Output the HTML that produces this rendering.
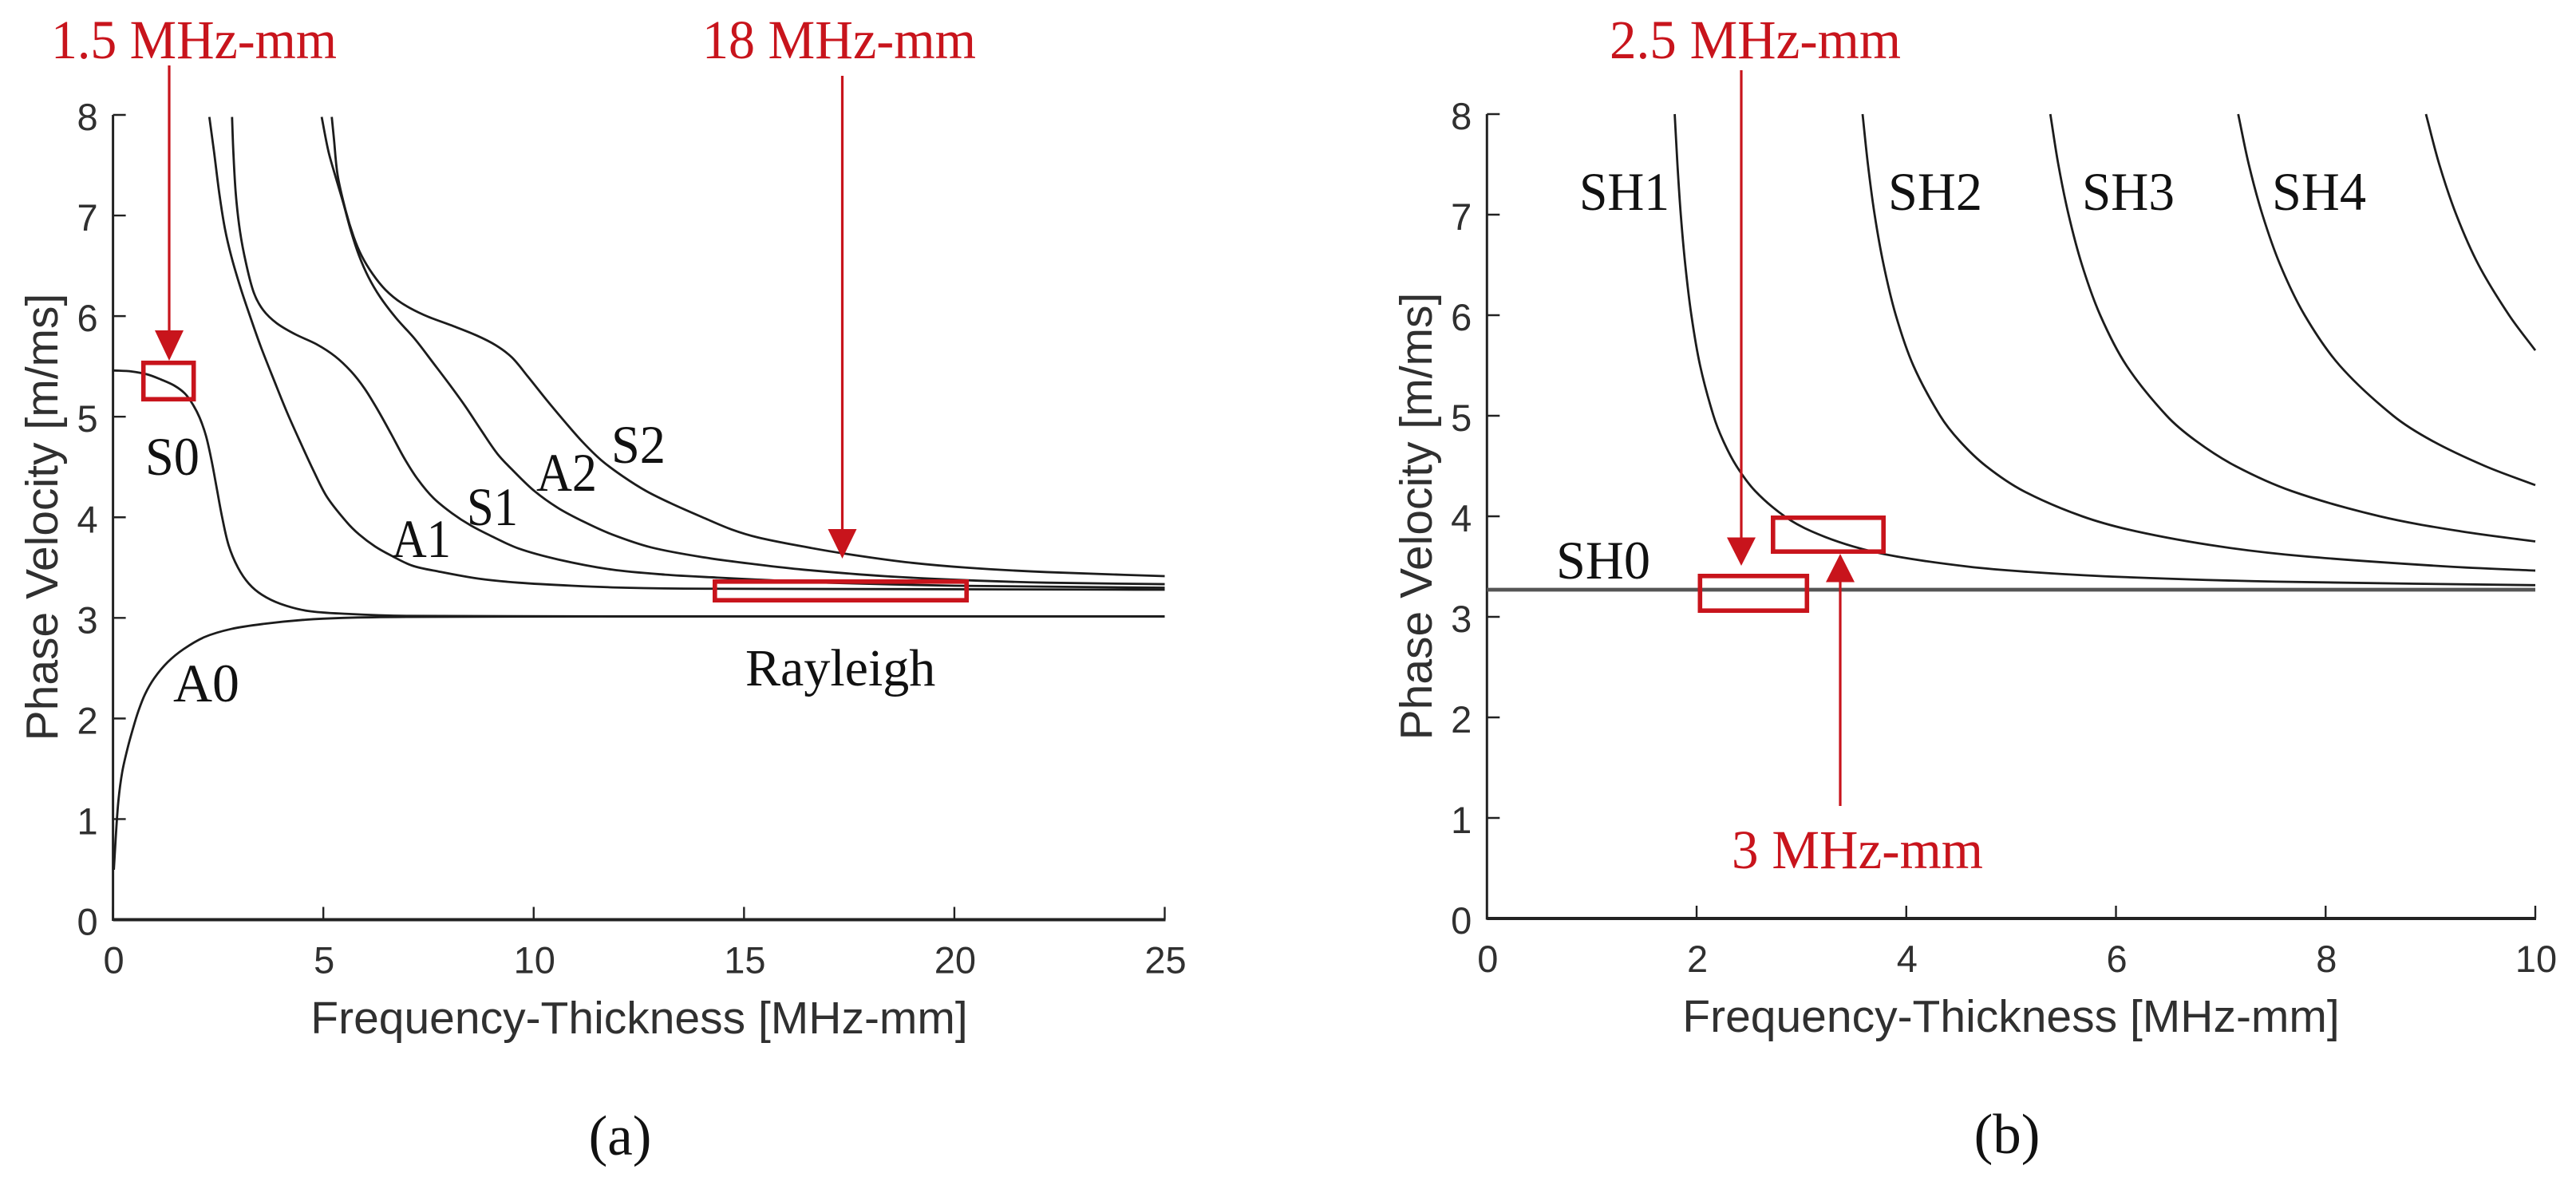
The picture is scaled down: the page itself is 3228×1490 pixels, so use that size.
<!DOCTYPE html>
<html lang="en">
<head>
<meta charset="utf-8">
<title>Phase velocity dispersion curves</title>
<style>
html,body{margin:0;padding:0;background:#fff;width:3228px;height:1490px;overflow:hidden}
svg{display:block}
.tick{font-family:"Liberation Sans",sans-serif;font-size:47px;fill:#303030}
.title{font-family:"Liberation Sans",sans-serif;font-size:57px;fill:#303030}
.lab{font-family:"Liberation Serif",serif;font-size:68px;fill:#111}
.cap{font-family:"Liberation Serif",serif;font-size:66px;fill:#111}
.paren{font-family:"Liberation Serif",serif;font-size:71px;fill:#111}
.red{font-family:"Liberation Serif",serif;font-size:69px;fill:#c8141c}
.rbox{fill:none;stroke:#c8141c;stroke-width:5.6}
.rline{stroke:#c8141c;stroke-width:3.2;fill:none}
.rhead{fill:#c8141c;stroke:none}
</style>
</head>
<body>
<svg id="fig" xmlns="http://www.w3.org/2000/svg" width="3228" height="1490" viewBox="0 0 3228 1490">
  <rect x="0" y="0" width="3228" height="1490" fill="#fff"/>
  <g id="panelA"></g>
  <g id="panelB"></g>

  <g>
    <text class="lab" x="182" y="595" textLength="68" lengthAdjust="spacingAndGlyphs">S0</text>
    <text class="lab" x="217" y="879" textLength="83" lengthAdjust="spacingAndGlyphs">A0</text>
    <text class="lab" x="491" y="698" textLength="74" lengthAdjust="spacingAndGlyphs">A1</text>
    <text class="lab" x="585" y="658" textLength="64" lengthAdjust="spacingAndGlyphs">S1</text>
    <text class="lab" x="672" y="615" textLength="76" lengthAdjust="spacingAndGlyphs">A2</text>
    <text class="lab" x="766" y="580" textLength="68" lengthAdjust="spacingAndGlyphs">S2</text>
    <text class="cap" x="934" y="859">Rayleigh</text>
  </g>
  <g>
    <text class="lab" x="1950" y="725" textLength="118" lengthAdjust="spacingAndGlyphs">SH0</text>
    <text class="lab" x="1979" y="263" textLength="113" lengthAdjust="spacingAndGlyphs">SH1</text>
    <text class="lab" x="2366" y="263" textLength="118" lengthAdjust="spacingAndGlyphs">SH2</text>
    <text class="lab" x="2609" y="263" textLength="116" lengthAdjust="spacingAndGlyphs">SH3</text>
    <text class="lab" x="2847" y="263" textLength="118" lengthAdjust="spacingAndGlyphs">SH4</text>
  </g>

  <g>
    <text class="red" x="64" y="73" textLength="358" lengthAdjust="spacingAndGlyphs">1.5 MHz-mm</text>
    <line class="rline" x1="212" y1="82" x2="212" y2="420"/>
    <polygon class="rhead" points="194,414 230,414 212,452"/>
    <rect class="rbox" x="179.7" y="454.7" width="63" height="45.6"/>
    <text class="red" x="880" y="73" textLength="343" lengthAdjust="spacingAndGlyphs">18 MHz-mm</text>
    <line class="rline" x1="1055.5" y1="95" x2="1055.5" y2="670"/>
    <polygon class="rhead" points="1037.5,663 1073.5,663 1055.5,700"/>
    <rect class="rbox" x="895.8" y="728.8" width="315.4" height="23.4"/>
  </g>
  <g>
    <text class="red" x="2017" y="73" textLength="365" lengthAdjust="spacingAndGlyphs">2.5 MHz-mm</text>
    <line class="rline" x1="2182" y1="88" x2="2182" y2="680"/>
    <polygon class="rhead" points="2164,673.5 2200,673.5 2182,709"/>
    <rect class="rbox" x="2130.3" y="721.8" width="134" height="43.4"/>
    <text class="red" x="2170" y="1088" textLength="315" lengthAdjust="spacingAndGlyphs">3 MHz-mm</text>
    <line class="rline" x1="2306" y1="1010" x2="2306" y2="722"/>
    <polygon class="rhead" points="2288,729.5 2324,729.5 2306,694"/>
    <rect class="rbox" x="2221.8" y="648.8" width="138.4" height="42.4"/>
  </g>

  <text class="paren" x="777" y="1447" text-anchor="middle">(a)</text>
  <text class="paren" x="2515" y="1445" text-anchor="middle">(b)</text>
</svg>

<script>
// Panel (a) tick labels
const ticksAX = [0, 5, 10, 15, 20, 25];
const ticksAY = [0, 1, 2, 3, 4, 5, 6, 7, 8];
// Panel (b) tick labels
const ticksBX = [0, 2, 4, 6, 8, 10];
const ticksBY = [0, 1, 2, 3, 4, 5, 6, 7, 8];

// Panel (a): frequency-thickness [MHz-mm] and phase velocity [m/ms]
const fdS0 = [0, 0.44, 0.82, 1.14, 1.455, 1.71, 1.9, 2.06, 2.21, 2.34, 2.47, 2.59, 2.75, 2.97, 3.23, 3.54, 3.98, 4.62, 5.56, 7, 12, 25];
const vpS0 = [5.46, 5.45, 5.42, 5.37, 5.31, 5.23, 5.12, 4.99, 4.81, 4.57, 4.28, 4.01, 3.72, 3.5, 3.34, 3.23, 3.14, 3.07, 3.04, 3.02, 3.015, 3.015];
const fdA0 = [0.02, 0.064, 0.128, 0.22, 0.35, 0.475, 0.6, 0.76, 0.98, 1.3, 1.68, 2.18, 2.81, 3.57, 4.52, 5.47, 7, 12, 25];
const vpA0 = [0.496, 0.81, 1.18, 1.47, 1.71, 1.9, 2.07, 2.24, 2.4, 2.56, 2.69, 2.81, 2.89, 2.94, 2.98, 3.0, 3.01, 3.015, 3.015];
const fdA1 = [2.29, 2.4, 2.53, 2.66, 2.815, 3.04, 3.26, 3.51, 3.83, 4.14, 4.46, 4.77, 5.09, 5.56, 5.85, 6.23, 6.61, 7.11, 7.75, 8.69, 9.64, 10.91, 12.17, 14.07, 25];
const vpA1 = [7.98, 7.64, 7.21, 6.87, 6.59, 6.27, 5.996, 5.7, 5.36, 5.04, 4.74, 4.46, 4.2, 3.95, 3.83, 3.71, 3.62, 3.52, 3.46, 3.39, 3.35, 3.32, 3.3, 3.29, 3.28];
const fdS1 = [2.83, 2.86, 2.92, 3.02, 3.16, 3.35, 3.57, 3.89, 4.33, 4.84, 5.28, 5.66, 5.98, 6.29, 6.61, 6.92, 7.24, 7.62, 8.06, 8.5, 9.01, 9.64, 10.59, 11.86, 13.12, 14.38, 15.33, 17, 20, 25];
const vpS1 = [7.98, 7.64, 7.21, 6.84, 6.53, 6.23, 6.06, 5.93, 5.82, 5.72, 5.6, 5.45, 5.28, 5.07, 4.83, 4.59, 4.38, 4.19, 4.04, 3.92, 3.81, 3.69, 3.58, 3.48, 3.43, 3.4, 3.38, 3.35, 3.32, 3.3];
const fdA2 = [4.96, 5.12, 5.28, 5.47, 5.66, 5.85, 6.07, 6.35, 6.73, 7.18, 7.62, 8.0, 8.38, 8.76, 9.14, 9.52, 10.02, 10.59, 11.22, 11.86, 12.8, 14.07, 15.33, 16.4, 18.34, 20.27, 22.2, 25];
const vpA2 = [7.98, 7.64, 7.4, 7.13, 6.84, 6.6, 6.39, 6.19, 5.98, 5.77, 5.53, 5.32, 5.1, 4.86, 4.63, 4.46, 4.26, 4.09, 3.95, 3.83, 3.7, 3.6, 3.53, 3.48, 3.415, 3.375, 3.35, 3.335];
const fdS2 = [5.2, 5.25, 5.34, 5.53, 5.72, 5.91, 6.17, 6.48, 6.86, 7.4, 8.03, 8.63, 9.1, 9.48, 9.86, 10.3, 10.75, 11.16, 11.6, 12.11, 12.68, 13.31, 14.07, 14.7, 15.33, 16.4, 17.37, 18.83, 20.27, 22.2, 25];
const vpS2 = [7.98, 7.77, 7.4, 7.05, 6.79, 6.6, 6.42, 6.26, 6.13, 6.01, 5.91, 5.81, 5.71, 5.59, 5.4, 5.17, 4.945, 4.75, 4.57, 4.41, 4.26, 4.13, 3.99, 3.88, 3.8, 3.71, 3.64, 3.555, 3.5, 3.455, 3.415];

// Panel (b): frequency-thickness [MHz-mm] and phase velocity [m/ms]
const fdSH0 = [0, 5, 10];
const vpSH0 = [3.27, 3.27, 3.27];
const fdSH1 = [1.791, 1.817, 1.849, 1.892, 1.95, 2.033, 2.161, 2.254, 2.38, 2.56, 2.839, 3.097, 3.494, 3.909, 4.586, 5.129, 5.97, 7.527, 10];
const vpSH1 = [8, 7.5, 7, 6.5, 6, 5.5, 5, 4.75, 4.5, 4.25, 4, 3.85, 3.7, 3.6, 3.5, 3.45, 3.4, 3.35, 3.315];
const fdSH2 = [3.583, 3.634, 3.698, 3.784, 3.9, 4.067, 4.323, 4.508, 4.76, 5.12, 5.678, 6.195, 6.989, 7.818, 9.172, 10];
const vpSH2 = [8, 7.5, 7, 6.5, 6, 5.5, 5, 4.75, 4.5, 4.25, 4, 3.85, 3.7, 3.6, 3.5, 3.46];
const fdSH3 = [5.374, 5.45, 5.548, 5.676, 5.85, 6.1, 6.484, 6.763, 7.14, 7.679, 8.517, 9.292, 10];
const vpSH3 = [8, 7.5, 7, 6.5, 6, 5.5, 5, 4.75, 4.5, 4.25, 4, 3.85, 3.75];
const fdSH4 = [7.166, 7.267, 7.397, 7.567, 7.8, 8.134, 8.645, 9.017, 9.52, 10];
const vpSH4 = [8, 7.5, 7, 6.5, 6, 5.5, 5, 4.75, 4.5, 4.31];
const fdSH5 = [8.957, 9.084, 9.246, 9.459, 9.75, 10];
const vpSH5 = [8, 7.5, 7, 6.5, 6, 5.65];

const NS = 'http://www.w3.org/2000/svg';

function make(tag, parent, attrs) {
  const el = document.createElementNS(NS, tag);
  for (const k in attrs) el.setAttribute(k, attrs[k]);
  parent.appendChild(el);
  return el;
}

function splinePath(pts) {
  let d = 'M' + pts[0][0].toFixed(2) + ' ' + pts[0][1].toFixed(2);
  for (let i = 0; i < pts.length - 1; i++) {
    const p0 = pts[Math.max(i - 1, 0)], p1 = pts[i], p2 = pts[i + 1], p3 = pts[Math.min(i + 2, pts.length - 1)];
    const h = Math.hypot(p2[0] - p1[0], p2[1] - p1[1]);
    const t1 = Math.min(1, h / (Math.hypot(p2[0] - p0[0], p2[1] - p0[1]) || 1)) / 3;
    const t2 = Math.min(1, h / (Math.hypot(p3[0] - p1[0], p3[1] - p1[1]) || 1)) / 3;
    const c1x = p1[0] + (p2[0] - p0[0]) * t1, c1y = p1[1] + (p2[1] - p0[1]) * t1;
    const c2x = p2[0] - (p3[0] - p1[0]) * t2, c2y = p2[1] - (p3[1] - p1[1]) * t2;
    d += 'C' + c1x.toFixed(2) + ' ' + c1y.toFixed(2) + ' ' + c2x.toFixed(2) + ' ' + c2y.toFixed(2) + ' ' + p2[0].toFixed(2) + ' ' + p2[1].toFixed(2);
  }
  return d;
}

function drawAxes(group, prefix, cfg, xTicks, yTicks) {
  const sx = v => cfg.x0 + (v - xTicks[0]) / (xTicks[xTicks.length - 1] - xTicks[0]) * (cfg.x1 - cfg.x0);
  const sy = v => cfg.y0 + (v - yTicks[0]) / (yTicks[yTicks.length - 1] - yTicks[0]) * (cfg.y1 - cfg.y0);

  const yAxis = make('line', group, {x1: cfg.x0, x2: cfg.x0, y1: cfg.y0 + 1.5, y2: cfg.y1, stroke: '#222', 'stroke-width': 3});
  
  
  const xAxis = make('line', group, {x1: cfg.x0, x2: cfg.x1 + 1, y1: cfg.y0, y2: cfg.y0, stroke: '#222', 'stroke-width': 4});
  
  

  xTicks.forEach(v => {
    const x = sx(v);
    const mark = make('line', group, {x1: x, x2: x, y1: cfg.y0, y2: cfg.y0 - 16, stroke: '#222', 'stroke-width': 2.4});
    
    
    const t = make('text', group, {x: x + 1, y: cfg.y0 + 67, 'text-anchor': 'middle', class: 'tick'});
    t.textContent = String(v);
    
    
  });
  yTicks.forEach(v => {
    const y = sy(v);
    const mark = make('line', group, {x1: cfg.x0, x2: cfg.x0 + 16, y1: y, y2: y, stroke: '#222', 'stroke-width': 2.4});
    
    
    const t = make('text', group, {x: cfg.x0 - 19, y: y + 19, 'text-anchor': 'end', class: 'tick'});
    t.textContent = String(v);
    
    
  });

  const xt = make('text', group, {x: cfg.xTitleX, y: cfg.xTitleY, 'text-anchor': 'middle', class: 'title'});
  xt.textContent = 'Frequency-Thickness [MHz-mm]';
  
  
  const yt = make('text', group, {transform: 'translate(' + cfg.yTitleX + ' ' + cfg.yTitleY + ') rotate(-90)', 'text-anchor': 'middle', class: 'title'});
  yt.textContent = 'Phase Velocity [m/ms]';
  
  

  return {sx, sy};
}

function drawCurve(group, scales, name, xs, ys, color, width) {
  const pts = xs.map((v, i) => [scales.sx(v), scales.sy(ys[i])]);
  const path = make('path', group, {d: splinePath(pts), fill: 'none', stroke: color || '#1c1c1c', 'stroke-width': width || 2.8, 'stroke-linejoin': 'round'});
  
  
}

const gA = document.getElementById('panelA');
const scaleA = drawAxes(gA, 'panel-a', {x0: 141.6, x1: 1459.5, y0: 1152.5, y1: 144, xTitleX: 801, xTitleY: 1295, yTitleX: 72, yTitleY: 648}, ticksAX, ticksAY);
drawCurve(gA, scaleA, 'curve-s0', fdS0, vpS0);
drawCurve(gA, scaleA, 'curve-a0', fdA0, vpA0);
drawCurve(gA, scaleA, 'curve-a1', fdA1, vpA1);
drawCurve(gA, scaleA, 'curve-s1', fdS1, vpS1);
drawCurve(gA, scaleA, 'curve-a2', fdA2, vpA2);
drawCurve(gA, scaleA, 'curve-s2', fdS2, vpS2);

const gB = document.getElementById('panelB');
const scaleB = drawAxes(gB, 'panel-b', {x0: 1863.3, x1: 3177, y0: 1151, y1: 143, xTitleX: 2520, xTitleY: 1293, yTitleX: 1794, yTitleY: 647}, ticksBX, ticksBY);
drawCurve(gB, scaleB, 'curve-sh0', fdSH0, vpSH0, '#555', 4.8);
drawCurve(gB, scaleB, 'curve-sh1', fdSH1, vpSH1);
drawCurve(gB, scaleB, 'curve-sh2', fdSH2, vpSH2);
drawCurve(gB, scaleB, 'curve-sh3', fdSH3, vpSH3);
drawCurve(gB, scaleB, 'curve-sh4', fdSH4, vpSH4);
drawCurve(gB, scaleB, 'curve-sh5', fdSH5, vpSH5);
</script>
</body>
</html>
